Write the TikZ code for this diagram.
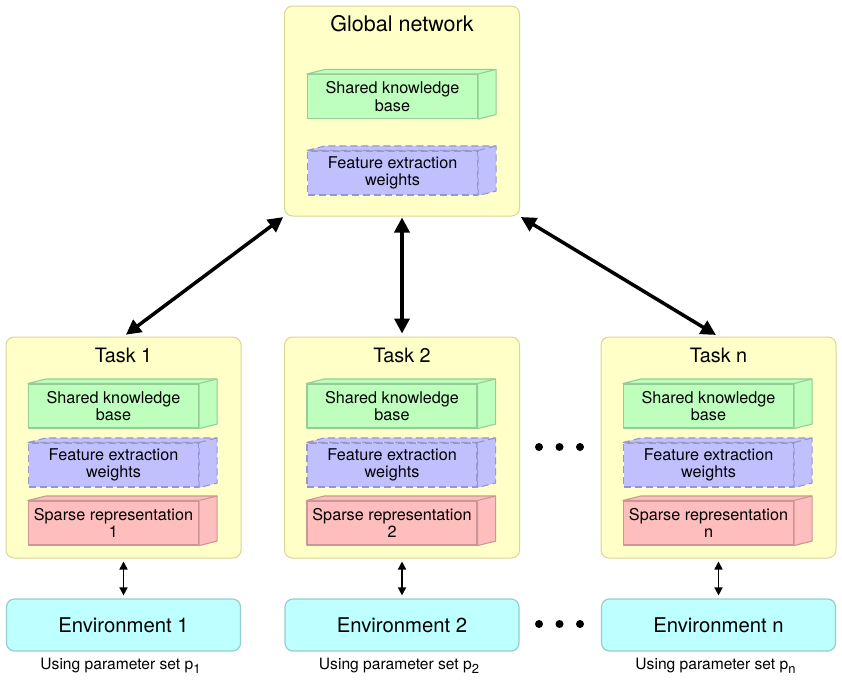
\documentclass[tikz,border=0pt]{standalone}
\usepackage{fontspec}
\setmainfont{TeX Gyre Heros}
\usetikzlibrary{arrows.meta}
\definecolor{yfill}{RGB}{255,255,200}
\definecolor{ydraw}{RGB}{215,215,150}
\definecolor{gfill}{RGB}{190,255,190}
\definecolor{gdraw}{RGB}{150,205,150}
\definecolor{pfill}{RGB}{192,192,255}
\definecolor{pdraw}{RGB}{150,150,205}
\definecolor{rfill}{RGB}{255,190,190}
\definecolor{rdraw}{RGB}{205,150,150}
\definecolor{cfill}{RGB}{190,255,255}
\definecolor{cdraw}{RGB}{150,205,205}
\tikzset{
  panel/.style={draw=ydraw, fill=yfill, line width=1pt, rounded corners=8pt,
    minimum width=235pt, inner sep=0pt},
  envbox/.style={draw=cdraw, fill=cfill, line width=1.2pt, rounded corners=8pt,
    minimum width=234pt, minimum height=52pt, font=\fontsize{20.3}{22}\selectfont},
  front/.style={minimum width=170pt, minimum height=44pt, inner sep=1pt, align=center,
    font=\fontsize{16.2}{17.5}\selectfont, line width=1.1pt, line join=round},
  skb/.style={fill=gfill, draw=gdraw},
  few/.style={fill=pfill, draw=pdraw, dashed, dash pattern=on 7pt off 4pt},
  spr/.style={fill=rfill, draw=rdraw},
  ttl/.style={font=\fontsize{19.8}{21}\selectfont},
  gttl/.style={font=\fontsize{21.5}{23}\selectfont},
  bigarrow/.style={line width=3.5pt, {Triangle[length=15pt,width=15pt]}-{Triangle[length=15pt,width=15pt]}, shorten <=1pt, shorten >=3pt},
  smallarrow/.style={line width=1.6pt, {Triangle[length=8pt,width=8pt]}-{Triangle[length=8pt,width=8pt]}, shorten <=3pt, shorten >=3pt},
  usel/.style={font=\fontsize{15.6}{17}\selectfont},
  dot/.style={fill=black, circle, inner sep=0pt, minimum size=8pt}
}
\newcommand\cub[4]{%
  \node[front,#3] (#1) at (#2) {#4};
  \filldraw[front,#3] (#1.north west) -- ++(18,-4.5) -- ([shift={(18,-4.5)}]#1.north east)
     -- ([shift={(18,-4.5)}]#1.south east) -- (#1.south east) -- (#1.north east) -- cycle;
  \draw[front,#3] (#1.north east) -- ++(18,-4.5);
}
\newcommand\psub[1]{p\raisebox{-4.5pt}{\fontsize{13}{13}\selectfont #1}}
\begin{document}
\begin{tikzpicture}[x=1pt,y=-1pt]
\useasboundingbox (0,0) rectangle (842,691);
% global network
\node[panel, minimum height=210pt] (glob) at (402,111) {};
\node[gttl] (globt) at (402,24) {Global network};
\cub{gskb}{392.5,96.5}{skb}{Shared knowledge\\base}
\cub{gfew}{392.5,173}{few}{Feature extraction\\weights}
% tasks
\foreach \nm/\cx/\lab in {t1/123.5/1, t2/402/2, tn/718.5/n}{
  \node[panel, minimum height=221pt] (\nm) at (\cx,447.5) {};
  \node[ttl] (\nm t) at (\cx,355) {Task \lab};
  \cub{\nm skb}{\cx-10,406}{skb}{Shared knowledge\\base}
  \cub{\nm few}{\cx-10,465}{few}{Feature extraction\\weights}
  \cub{\nm spr}{\cx-10,523}{spr}{Sparse representation\\\lab}
  \node[envbox] (\nm e) at (\cx,625) {Environment \lab};
  \node[usel] (\nm u) at (\cx-3,666) {Using parameter set \psub{\lab}};
  \draw[smallarrow] (\nm.south) -- (\nm e.north);
}
% arrows
\draw[bigarrow] (glob.south west) -- (t1.north);
\draw[bigarrow] (glob.south) -- (t2.north);
\draw[bigarrow] (glob.south east) -- (tn.north);
% dots
\foreach \i/\x in {1/539,2/559.5,3/580}{
  \node[dot] (da\i) at (\x,447) {};
  \node[dot] (db\i) at (\x,624) {};
}
\end{tikzpicture}
\end{document}
